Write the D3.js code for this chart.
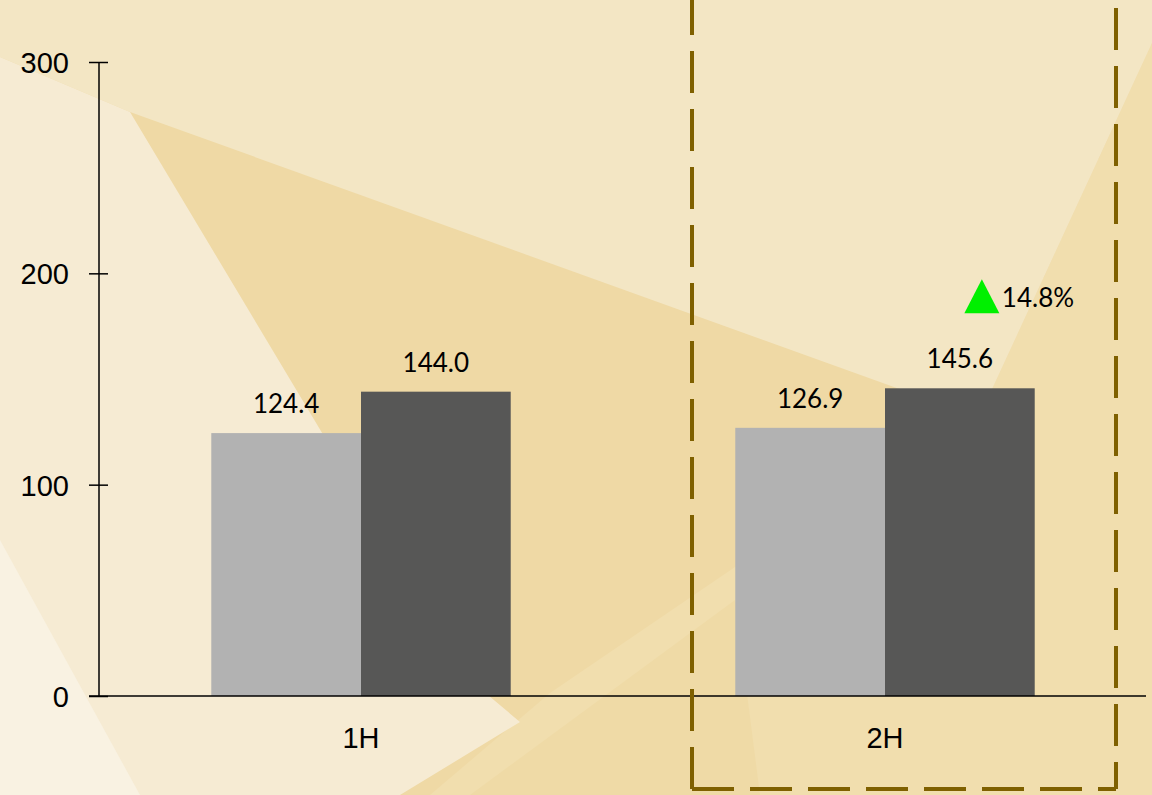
<!DOCTYPE html>
<html>
<head>
<meta charset="utf-8">
<script src="https://cdn.jsdelivr.net/npm/d3@7"></script>
<style>
  html, body { margin: 0; padding: 0; background: #f0dba8; }
  svg { display: block; font-family: Lato, "Open Sans", sans-serif; }
</style>
</head>
<body>
<div id="chart"></div>
<script>
// chart data
const categories = ["1H", "2H"];
const seriesKeys = ["prev", "curr"];
const prevValues = [124.4, 126.9];
const currValues = [144.0, 145.6];
const yTicks = [0, 100, 200, 300];
const changeLabel = "14.8%";
const highlightCategory = "2H";

const W = 1152, H = 795;
const margin = { top: 62, right: 5, bottom: 99, left: 99 };

const svg = d3.select("#chart").append("svg")
  .attr("width", W)
  .attr("height", H);

// background facets
const bg = svg.append("g");
bg.append("rect").attr("width", W).attr("height", H).attr("fill", "#efd9a5");
const facets = [
  { fill: "#f1deae", pts: [[1152, 43], [987, 400], [735, 567], [550, 693], [430, 795], [1152, 795]] },
  { fill: "#f3e6c4", pts: [[0, 0], [1152, 0], [1152, 43], [987, 400], [980, 418], [130, 112], [0, 57]] },
  { fill: "#f6ebd3", pts: [[0, 57], [130, 112], [470, 680], [520, 722], [400, 795], [0, 795]] },
  { fill: "#f9f2e2", pts: [[0, 540], [140, 795], [0, 795]] },
  { fill: "#efdaa6", pts: [[470, 795], [735, 600], [760, 795]] }
];
bg.selectAll("polygon")
  .data(facets)
  .join("polygon")
  .attr("points", d => d.pts.map(p => p.join(",")).join(" "))
  .attr("fill", d => d.fill);

const x0 = d3.scaleBand()
  .domain(categories)
  .range([margin.left, W - margin.right])
  .padding(0);

const x1 = d3.scaleBand()
  .domain(seriesKeys)
  .range([0, x0.bandwidth()])
  .paddingInner(0)
  .paddingOuter(0.75);

const y = d3.scaleLinear()
  .domain([0, 300])
  .range([H - margin.bottom, margin.top]);

const color = d3.scaleOrdinal()
  .domain(seriesKeys)
  .range(["#b2b2b2", "#575756"]);

const rows = categories.map((c, i) => ({ cat: c, prev: prevValues[i], curr: currValues[i] }));

// bars
const groups = svg.selectAll(".bar-group")
  .data(rows)
  .join("g")
  .attr("transform", d => `translate(${x0(d.cat)},0)`);

groups.selectAll("rect")
  .data(d => seriesKeys.map(k => ({ key: k, value: d[k] })))
  .join("rect")
  .attr("x", d => x1(d.key))
  .attr("width", x1.bandwidth())
  .attr("y", d => y(d.value))
  .attr("height", d => y(0) - y(d.value))
  .attr("fill", d => color(d.key));

groups.selectAll("text.val")
  .data(d => seriesKeys.map(k => ({ key: k, value: d[k] })))
  .join("text")
  .attr("class", "val")
  .attr("x", d => x1(d.key) + x1.bandwidth() / 2)
  .attr("y", d => y(d.value) - 20)
  .attr("text-anchor", "middle")
  .style("font-size", "26px")
  .attr("fill", "#000")
  .text(d => d.value.toFixed(1));

// y axis
const yAxis = svg.append("g")
  .attr("transform", `translate(${margin.left},0)`)
  .call(d3.axisLeft(y).tickValues(yTicks).tickSizeInner(10).tickSizeOuter(0).tickPadding(20));
yAxis.select(".domain").remove();
yAxis.selectAll(".tick line").attr("x1", 9).attr("stroke", "#000").attr("stroke-width", 1.5);
yAxis.selectAll(".tick text").style("font-size", "29px").attr("fill", "#000").attr("dy", "0.36em");
svg.append("line")
  .attr("x1", margin.left).attr("x2", margin.left)
  .attr("y1", y(300)).attr("y2", y(0))
  .attr("stroke", "#000").attr("stroke-width", 1.5);

// x axis
const xAxis = svg.append("g")
  .attr("transform", `translate(0,${y(0)})`)
  .call(d3.axisBottom(x0).tickSize(0).tickPadding(0));
xAxis.select(".domain").remove();
xAxis.selectAll(".tick text")
  .attr("y", 52).attr("dy", 0)
  .style("font-size", "29px").attr("fill", "#000");
svg.append("line")
  .attr("x1", margin.left - 10).attr("x2", W - 6)
  .attr("y1", y(0)).attr("y2", y(0))
  .attr("stroke", "#000").attr("stroke-width", 1.5);

// highlight box around 2H
const hc = x0(highlightCategory) + x0.bandwidth() / 2;
const boxL = hc - 193, boxR = hc + 231, boxB = 789;
const box = svg.append("g")
  .attr("fill", "none")
  .attr("stroke", "#7f6000")
  .attr("stroke-width", 4)
  .attr("stroke-dasharray", "42,16");
box.append("path").attr("d", `M${boxL},${boxB}L${boxL},-10`);
box.append("path").attr("d", `M${boxL},${boxB}L${boxR},${boxB}`);
box.append("path").attr("d", `M${boxR},${boxB}L${boxR},-10`).attr("stroke-dashoffset", 15);

// growth marker
const hiCurr = rows.find(r => r.cat === highlightCategory).curr;
const mx = x0(highlightCategory) + x1("curr") + x1.bandwidth() / 2;
const baseY = y(hiCurr) - 75;
svg.append("path")
  .attr("d", `M${mx + 4.5},${baseY}L${mx + 39.5},${baseY}L${mx + 22},${baseY - 34}Z`)
  .attr("fill", "#00f000");
svg.append("text")
  .attr("x", mx + 42)
  .attr("y", baseY - 6)
  .style("font-size", "26px")
  .attr("fill", "#000")
  .text(changeLabel);
</script>
</body>
</html>
